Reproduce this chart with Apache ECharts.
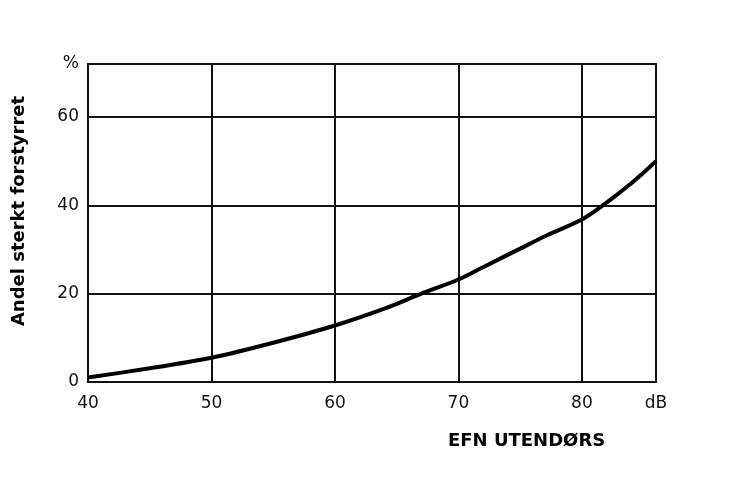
<!DOCTYPE html>
<html>
<head>
<meta charset="utf-8">
<script src="https://cdn.jsdelivr.net/npm/echarts@6/dist/echarts.min.js"></script>
<style>
html,body{margin:0;padding:0;background:#fff;}
#chart{width:734px;height:495px;}
</style>
</head>
<body>
<div id="chart"></div>
<script>
const noiseDb = [40, 45, 50, 55, 60, 64, 67, 70, 72, 75, 77, 80, 81.7, 84, 86];
const annoyedPct = [1.0, 3.1, 5.5, 8.9, 12.8, 16.6, 20.0, 23.2, 26.0, 30.2, 33.0, 36.8, 40.0, 45.0, 50.0];
const xTickLabels = { 40: '40', 50: '50', 60: '60', 70: '70', 80: '80', 86: 'dB' };
const yTickLabels = { 0: '0', 20: '20', 40: '40', 60: '60', 72: '%' };
const xTitle = 'EFN UTENDØRS';
const yTitle = 'Andel sterkt forstyrret';

const chart = echarts.init(document.getElementById('chart'), null, { renderer: 'canvas' });
const labelFont = { fontFamily: 'DejaVu Sans', fontSize: 17, color: '#111' };
chart.setOption({
  animation: false,
  backgroundColor: '#fff',
  grid: { left: 88, right: 78, top: 64, bottom: 113, show: true, borderColor: '#111', borderWidth: 2,
          containLabel: false, outerBoundsMode: 'none' },
  xAxis: {
    type: 'value', min: 40, max: 86, interval: 10,
    axisLine: { show: true, lineStyle: { color: '#111', width: 2 } },
    axisTick: { show: false },
    splitLine: { show: true, lineStyle: { color: '#111', width: 2 } },
    axisLabel: Object.assign({ margin: 13, formatter: v => xTickLabels[v] ?? '' }, labelFont)
  },
  yAxis: {
    type: 'value', min: 0, max: 72, interval: 20,
    axisLine: { show: true, lineStyle: { color: '#111', width: 2 } },
    axisTick: { show: false },
    splitLine: { show: true, lineStyle: { color: '#111', width: 2 } },
    axisLabel: Object.assign({ margin: 9, padding: [5, 0, 0, 0], formatter: v => yTickLabels[v] ?? '' }, labelFont)
  },
  graphic: [{
    type: 'text', x: 448, y: 441,
    style: { text: xTitle, fontFamily: 'DejaVu Sans', fontWeight: 'bold', fontSize: 18, fill: '#000',
             textAlign: 'left', textVerticalAlign: 'middle', verticalAlign: 'middle' }
  }, {
    type: 'text', x: 19, y: 211, rotation: Math.PI / 2,
    style: { text: yTitle, fontFamily: 'DejaVu Sans', fontWeight: 'bold', fontSize: 18, fill: '#000',
             textAlign: 'center', align: 'center', textVerticalAlign: 'middle', verticalAlign: 'middle' }
  }],
  series: [{
    type: 'line', smooth: 0.25, showSymbol: false,
    data: noiseDb.map((x, i) => [x, annoyedPct[i]]),
    lineStyle: { color: '#000', width: 4 }
  }]
});
</script>
</body>
</html>
